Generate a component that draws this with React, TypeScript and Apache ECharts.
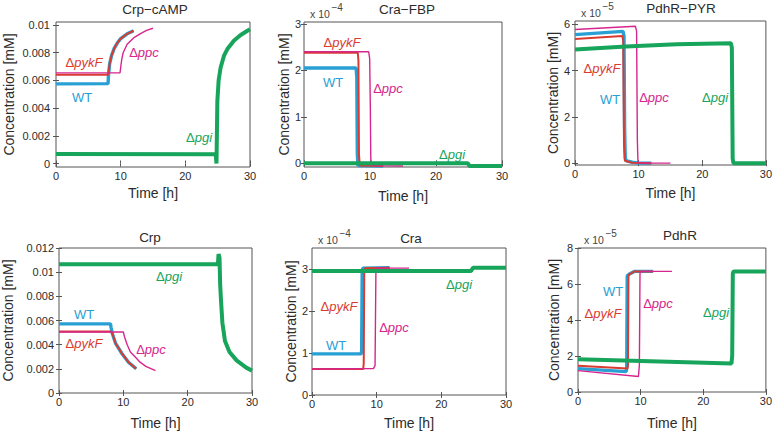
import React, { useEffect, useRef } from "react";
import * as echarts from "echarts";

type Pt = [number, number];

const FONT = "Arial, Liberation Sans, sans-serif";

const TIME_TICKS = [0, 10, 20, 30];

// ---- Crp-cAMP [mM]
const CRPCAMP_WT: Pt[] = [[0, 0.00574], [8.05, 0.00576], [8.12, 0.0064], [8.3, 0.0072], [8.6, 0.0078], [9, 0.0083], [9.5, 0.0087], [10, 0.009], [11, 0.00935], [12, 0.00957]];
const CRPCAMP_PYKF: Pt[] = [[0, 0.0064], [8.05, 0.0064], [8.12, 0.00655], [8.3, 0.0072], [8.6, 0.0078], [9, 0.0083], [9.5, 0.0087], [10, 0.009], [11, 0.00935], [12, 0.00957]];
const CRPCAMP_PPC: Pt[] = [[0, 0.00653], [9.9, 0.00653], [10.05, 0.0071], [10.2, 0.0076], [10.4, 0.008], [11, 0.0086], [12, 0.00905], [13, 0.00935], [14, 0.0096], [15, 0.00975]];
const CRPCAMP_PGI: Pt[] = [[0, 0.00068], [24.7, 0.00066], [24.82, 0], [24.95, 0.0045], [25.15, 0.006], [25.45, 0.0069], [26, 0.0078], [26.5, 0.00825], [27.5, 0.00885], [28.5, 0.00925], [29.6, 0.00957], [30, 0.00967]];
const CRPCAMP_TICKS = [0, 0.002, 0.004, 0.006, 0.008, 0.01];

// ---- Cra-FBP [x1e-4 mM]
const CRAFBP_WT: Pt[] = [[0, 2.05], [7.9, 2.05], [8.0, 1.85], [8.08, 0.2], [8.18, -0.05], [12, -0.06]];
const CRAFBP_PYKF: Pt[] = [[0, 2.38], [8.15, 2.38], [8.25, 2.2], [8.33, 0.2], [8.45, -0.05], [12, -0.06]];
const CRAFBP_PPC: Pt[] = [[0, 2.4], [9.8, 2.4], [9.95, 2.25], [10.05, 1.2], [10.12, 0.1], [10.25, -0.05], [15, -0.06]];
const CRAFBP_PGI: Pt[] = [[0, 0.0], [24.8, 0.0], [25.1, -0.06], [30, -0.06]];
const CRAFBP_TICKS = [0, 1, 2, 3];

// ---- PdhR-PYR [x1e-5 mM]
const PDHRPYR_WT: Pt[] = [[0, 5.56], [7.55, 5.7], [7.7, 5.5], [7.8, 1.5], [7.9, 0.2], [8.1, 0.1], [9, 0.04], [10, 0.0], [12, 0.0]];
const PDHRPYR_PYKF: Pt[] = [[0, 5.37], [7.45, 5.5], [7.58, 5.3], [7.7, 0.8], [7.85, 0.1], [9, 0.02], [12, 0.0]];
const PDHRPYR_PPC: Pt[] = [[0, 5.78], [9.5, 5.92], [9.68, 5.7], [9.8, 1.0], [9.9, 0.0], [15, 0.0]];
const PDHRPYR_PGI: Pt[] = [[0, 4.92], [8, 5.05], [16, 5.14], [24.5, 5.19], [24.65, 5.0], [24.78, 0.2], [24.9, 0.0], [30, 0.0]];
const PDHRPYR_TICKS = [0, 2, 4, 6];

// ---- Crp [mM]
const CRP_WT: Pt[] = [[0, 0.00572], [8.0, 0.00572], [8.1, 0.0054], [8.3, 0.0049], [8.8, 0.0041], [9.8, 0.00325], [10.8, 0.00255], [12, 0.002]];
const CRP_PYKF: Pt[] = [[0, 0.0051], [8.05, 0.0051], [8.2, 0.005], [8.3, 0.0049], [8.8, 0.0041], [9.8, 0.00325], [10.8, 0.00255], [12, 0.002]];
const CRP_PPC: Pt[] = [[0, 0.00505], [10.0, 0.00505], [10.15, 0.0047], [10.6, 0.004], [11.1, 0.0034], [12, 0.0029], [12.6, 0.00255], [13.5, 0.0022], [15, 0.00185]];
const CRP_PGI: Pt[] = [[0, 0.01065], [24.7, 0.01065], [24.8, 0.0115], [24.95, 0.0112], [25.05, 0.009], [25.2, 0.0075], [25.4, 0.0058], [25.8, 0.0043], [26.5, 0.0034], [27.6, 0.0027], [29.1, 0.0021], [30, 0.00185]];
const CRP_TICKS = [0, 0.002, 0.004, 0.006, 0.008, 0.01, 0.012];

// ---- Cra [x1e-4 mM]
const CRA_WT: Pt[] = [[0, 0.98], [7.6, 0.98], [7.68, 1.05], [7.76, 2.9], [7.85, 3.02], [12, 3.03]];
const CRA_PYKF: Pt[] = [[0, 0.62], [7.92, 0.62], [8.0, 0.75], [8.08, 2.9], [8.18, 3.02], [12, 3.03]];
const CRA_PPC: Pt[] = [[0, 0.62], [9.5, 0.63], [9.75, 0.7], [9.88, 2.9], [10.0, 3.02], [15, 3.02]];
const CRA_PGI: Pt[] = [[0, 2.95], [24.6, 2.95], [24.9, 3.03], [30, 3.03]];
const CRA_TICKS = [0, 1, 2, 3];

// ---- PdhR [x1e-5 mM]
const PDHR_WT: Pt[] = [[0, 1.3], [7.7, 1.13], [7.78, 1.4], [7.86, 6.45], [8.2, 6.55], [9, 6.7], [12, 6.7]];
const PDHR_PYKF: Pt[] = [[0, 1.46], [7.9, 1.3], [7.98, 1.5], [8.06, 6.5], [9, 6.7], [12, 6.7]];
const PDHR_PPC: Pt[] = [[0, 1.19], [9.65, 0.86], [9.8, 1.5], [9.9, 6.6], [10.05, 6.7], [15, 6.7]];
const PDHR_PGI: Pt[] = [[0, 1.82], [24.5, 1.58], [24.62, 2.0], [24.72, 6.6], [24.85, 6.7], [30, 6.7]];
const PDHR_TICKS = [0, 2, 4, 6, 8];

const STRAINS = ["WT", "pykF", "ppc", "pgi"];
const COLORS: Record<string, string> = { WT: "#28a0d4", pykF: "#d93b31", ppc: "#d6268d", pgi: "#17a45b" };
const WIDTHS: Record<string, number> = { WT: 3.4, pykF: 2, ppc: 1.4, pgi: 4 };

const TITLES = ["Crp\u2212cAMP", "Cra\u2212FBP", "PdhR\u2212PYR", "Crp", "Cra", "PdhR"];

const TEXT_COLOR = "#2b2b2b";

const PANELS = [
  { title: TITLES[0], data: [CRPCAMP_WT, CRPCAMP_PYKF, CRPCAMP_PPC, CRPCAMP_PGI], ticks: CRPCAMP_TICKS, min: -0.00025, max: 0.0102, grid: { left: 56, top: 22, width: 194, height: 145 }, yGap: 40, xGap: 19, yMargin: 6, tx: 155, ty: 9, exp: null as null | string },
  { title: TITLES[1], data: [CRAFBP_WT, CRAFBP_PYKF, CRAFBP_PPC, CRAFBP_PGI], ticks: CRAFBP_TICKS, min: -0.08, max: 3.04, grid: { left: 304, top: 22, width: 198, height: 145 }, yGap: 10, xGap: 22, yMargin: 3, tx: 407, ty: 9, exp: "\u22124" },
  { title: TITLES[2], data: [PDHRPYR_WT, PDHRPYR_PYKF, PDHRPYR_PPC, PDHRPYR_PGI], ticks: PDHRPYR_TICKS, min: -0.08, max: 6.15, grid: { left: 575, top: 21, width: 193, height: 144 }, yGap: 15, xGap: 21, yMargin: 5, tx: 681, ty: 8, exp: "\u22125" },
  { title: TITLES[3], data: [CRP_WT, CRP_PYKF, CRP_PPC, CRP_PGI], ticks: CRP_TICKS, min: 0, max: 0.012, grid: { left: 59, top: 248, width: 193, height: 145 }, yGap: 44, xGap: 23, yMargin: 5, tx: 150, ty: 237, exp: null },
  { title: TITLES[4], data: [CRA_WT, CRA_PYKF, CRA_PPC, CRA_PGI], ticks: CRA_TICKS, min: 0, max: 3.5, grid: { left: 312, top: 248, width: 194, height: 147 }, yGap: 14, xGap: 21, yMargin: 4, tx: 411, ty: 238, exp: "\u22124" },
  { title: TITLES[5], data: [PDHR_WT, PDHR_PYKF, PDHR_PPC, PDHR_PGI], ticks: PDHR_TICKS, min: 0, max: 8, grid: { left: 578, top: 248, width: 192, height: 144 }, yGap: 17, xGap: 24, yMargin: 5, tx: 680, ty: 235, exp: "\u22125" },
];

// label anchor positions (centre) for each panel, in strain order WT, pykF, ppc, pgi
const LABEL_POS: [number, number][][] = [
  [[82, 97], [84, 62], [144, 52], [199, 137]],
  [[333, 82], [342, 42], [388, 88], [452, 154]],
  [[610, 99], [602, 68], [654, 97], [715, 97]],
  [[84, 314], [84, 343], [151, 349], [169, 276]],
  [[336, 345], [339, 306], [394, 327], [459, 284]],
  [[613, 291], [603, 313], [658, 303], [716, 312]],
];

function fmt(v: number) {
  return String(Number(v.toPrecision(6)));
}

function strainLabel(x: number, y: number, strain: string) {
  const color = COLORS[strain];
  const text = strain === "WT" ? "{n|WT}" : "{n|\u0394}{i|" + strain + "}";
  return {
    type: "text",
    x,
    y,
    z: 100,
    style: {
      text,
      align: "center",
      verticalAlign: "middle",
      rich: {
        n: { fontSize: 13, fontFamily: FONT, fill: color },
        i: { fontSize: 13, fontFamily: FONT, fill: color, fontStyle: "italic" },
      },
    },
  };
}

export default function App() {
  const ref = useRef<HTMLDivElement>(null);
  useEffect(() => {
    if (!ref.current) return;
    const chart = echarts.init(ref.current, null, { renderer: "svg" });
    const grids: any[] = [];
    const xAxes: any[] = [];
    const yAxes: any[] = [];
    const series: any[] = [];
    const graphics: any[] = [];
    PANELS.forEach((p, i) => {
      grids.push({ ...p.grid, show: true, borderColor: "#555", borderWidth: 1, backgroundColor: "transparent" });
      xAxes.push({
        type: "value", gridIndex: i, min: 0, max: 30, interval: 10, position: "bottom",
        axisLine: { show: false },
        axisTick: { inside: true, length: 3, lineStyle: { color: "#555" } },
        axisLabel: { fontSize: 11, color: TEXT_COLOR, margin: 3, fontFamily: FONT, customValues: TIME_TICKS },
        splitLine: { show: false },
        name: "Time [h]", nameLocation: "middle", nameGap: p.xGap,
        nameTextStyle: { fontSize: 14, color: TEXT_COLOR, fontFamily: FONT, fontWeight: "normal" },
      });
      xAxes.push({
        type: "value", gridIndex: i, min: 0, max: 30, interval: 10, position: "top",
        axisLine: { show: false },
        axisTick: { inside: true, length: 3, lineStyle: { color: "#555" } },
        axisLabel: { show: false }, splitLine: { show: false },
      });
      yAxes.push({
        type: "value", gridIndex: i, min: p.min, max: p.max, position: "left",
        axisLine: { show: false },
        axisTick: { inside: true, length: 3, customValues: p.ticks, lineStyle: { color: "#555" } },
        axisLabel: { fontSize: 11, color: TEXT_COLOR, margin: p.yMargin, fontFamily: FONT, customValues: p.ticks, formatter: (v: number) => fmt(v) },
        splitLine: { show: false },
        name: "Concentration [mM]", nameLocation: "middle", nameGap: p.yGap,
        nameTextStyle: { fontSize: 14, color: TEXT_COLOR, fontFamily: FONT, fontWeight: "normal" },
      });
      yAxes.push({
        type: "value", gridIndex: i, min: p.min, max: p.max, position: "right",
        axisLine: { show: false },
        axisTick: { inside: true, length: 3, customValues: p.ticks, lineStyle: { color: "#555" } },
        axisLabel: { show: false }, splitLine: { show: false },
      });
      p.data.forEach((d, k) => {
        const s = STRAINS[k];
        series.push({
          type: "line", xAxisIndex: 2 * i, yAxisIndex: 2 * i, data: d, showSymbol: false, symbol: "none",
          lineStyle: { color: COLORS[s], width: WIDTHS[s] }, z: 2 + k, silent: true,
        });
      });
      graphics.push({
        type: "text", x: p.tx, y: p.ty, z: 100,
        style: { text: p.title, align: "center", verticalAlign: "middle", fontSize: 13.5, fontWeight: "normal", fontFamily: FONT, fill: TEXT_COLOR },
      });
      if (p.exp) {
        const bx = p.grid.left + 6;
        const by = p.grid.top - 8;
        graphics.push({
          type: "text", x: bx, y: by, z: 100,
          style: { text: "x 10", align: "left", verticalAlign: "middle", fontSize: 10.5, fontFamily: FONT, fill: "#444" },
        });
        graphics.push({
          type: "text", x: bx + 21.5, y: by - 6.5, z: 100,
          style: { text: p.exp, align: "left", verticalAlign: "middle", fontSize: 10, fontFamily: FONT, fill: "#444" },
        });
      }
      LABEL_POS[i].forEach((pos, k) => graphics.push(strainLabel(pos[0], pos[1], STRAINS[k])));
    });
    chart.setOption({
      animation: false,
      backgroundColor: "#ffffff",
      textStyle: { fontFamily: FONT },
      grid: grids,
      xAxis: xAxes,
      yAxis: yAxes,
      series,
      graphic: graphics,
    });
    return () => chart.dispose();
  }, []);
  return <div ref={ref} style={{ position: "absolute", left: 0, top: 0, width: 775, height: 433 }} />;
}
